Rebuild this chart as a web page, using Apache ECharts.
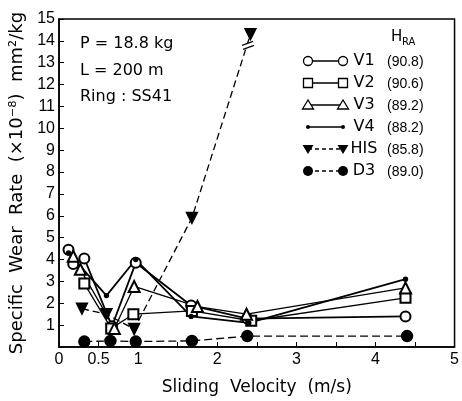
<!DOCTYPE html>
<html>
<head>
<meta charset="utf-8">
<script src="https://cdn.jsdelivr.net/npm/echarts@6/dist/echarts.min.js"></script>
<style>
  html, body { margin: 0; padding: 0; background: #fff; }
  #chart { width: 462px; height: 401px; }
</style>
</head>
<body>
<div id="chart"></div>
<script>
// data (x = m/s, y = x10^-8 mm2/kg)
const v1 = [[0.12, 4.45], [0.18, 3.8], [0.32, 4.05], [0.67, 0.95], [0.97, 3.85], [1.67, 1.9], [2.38, 1.3], [4.38, 1.4]];
const v2 = [[0.32, 2.9], [0.66, 0.85], [0.94, 1.5], [1.68, 1.65], [2.43, 1.2], [4.38, 2.25]];
const v3 = [[0.18, 4.15], [0.27, 3.55], [0.7, 0.85], [0.95, 2.77], [1.75, 1.85], [2.37, 1.5], [4.38, 2.7]];
const v4 = [[0.12, 4.3], [0.6, 2.35], [0.97, 4.0], [1.67, 1.4], [2.4, 1.1], [4.38, 3.1]];
const his = [[0.29, 1.75], [0.6, 1.5], [0.95, 0.82], [1.68, 5.9], [2.42, 14.3]];
const d3 = [[0.32, 0.25], [0.65, 0.28], [0.97, 0.25], [1.68, 0.28], [2.38, 0.5], [4.4, 0.5]];

const names = ['V1', 'V2', 'V3', 'V4', 'HIS', 'D3'];
const hra = ['(90.8)', '(90.6)', '(89.2)', '(88.2)', '(85.8)', '(89.0)'];
const xLabels = ['0', '0.5', '1', '2', '3', '4', '5'];

const font = '"DejaVu Sans", "Liberation Sans", sans-serif';
const narrow = '"Liberation Sans Narrow", "Liberation Sans", sans-serif';

const styles = [
  { symbol: 'emptyCircle', size: 10, rot: 0, dash: 'solid', width: 1.8 },
  { symbol: 'emptyRect', size: 10, rot: 0, dash: 'solid', width: 1.3 },
  { symbol: 'emptyTriangle', size: 11, rot: 0, dash: 'solid', width: 1.3 },
  { symbol: 'circle', size: 4, rot: 0, dash: 'solid', width: 1.8 },
  { symbol: 'triangle', size: 11, rot: 180, dash: [7, 4], width: 1.3 },
  { symbol: 'circle', size: 11, rot: 0, dash: [8, 4], width: 1.3 }
];
const allData = [v1, v2, v3, v4, his, d3];

const series = allData.map((d, i) => ({
  name: names[i],
  type: 'line',
  data: d,
  symbol: styles[i].symbol,
  symbolSize: styles[i].size,
  symbolRotate: styles[i].rot,
  showAllSymbol: true,
  itemStyle: { color: '#000', borderColor: '#000', borderWidth: 1.4 },
  lineStyle: { color: '#000', width: styles[i].width, type: styles[i].dash },
  animation: false,
  z: 3
}));

// legend drawn as graphic, a line with a marker at each end
const legendItems = [];
names.forEach((n, i) => {
  const y = 61 + i * 22;
  const st = styles[i];
  legendItems.push({
    type: 'line', shape: { x1: 308, y1: y, x2: 343, y2: y },
    style: { stroke: '#000', lineWidth: 1.4, lineDash: st.dash === 'solid' ? null : [4, 3] }
  });
  [308, 343].forEach(x => {
    let s;
    const r = 4.5;
    if (i === 0) s = { type: 'circle', shape: { cx: x, cy: y, r: r }, style: { fill: '#fff', stroke: '#000', lineWidth: 1.3 } };
    else if (i === 1) s = { type: 'rect', shape: { x: x - r, y: y - r, width: 2 * r, height: 2 * r }, style: { fill: '#fff', stroke: '#000', lineWidth: 1.3 } };
    else if (i === 2) s = { type: 'polygon', shape: { points: [[x, y - 5], [x - 5.5, y + 4], [x + 5.5, y + 4]] }, style: { fill: '#fff', stroke: '#000', lineWidth: 1.3 } };
    else if (i === 3) s = { type: 'circle', shape: { cx: x, cy: y, r: 2 }, style: { fill: '#000' } };
    else if (i === 4) s = { type: 'polygon', shape: { points: [[x - 5.5, y - 4], [x + 5.5, y - 4], [x, y + 5]] }, style: { fill: '#000' } };
    else s = { type: 'circle', shape: { cx: x, cy: y, r: 5 }, style: { fill: '#000' } };
    s.z = 10;
    legendItems.push(s);
  });
  legendItems.push({
    type: 'text', x: 364, y: y,
    style: { text: n, font: '16px ' + font, fill: '#000', align: 'center', verticalAlign: 'middle' }
  });
  legendItems.push({
    type: 'text', x: 387, y: y + 1,
    style: { text: hra[i], font: '14px ' + narrow, fill: '#000', verticalAlign: 'middle' }
  });
});

const notes = [
  { type: 'text', left: 80, top: 36, style: { text: 'P = 18.8 kg', font: '16px ' + font, fill: '#000' } },
  { type: 'text', left: 80, top: 63, style: { text: 'L = 200 m', font: '16px ' + font, fill: '#000' } },
  { type: 'text', left: 80, top: 89, style: { text: 'Ring : SS41', font: '16px ' + font, fill: '#000' } },
  { type: 'text', left: 391, top: 30, style: { text: 'H', font: '15px ' + font, fill: '#000' } },
  { type: 'text', left: 402, top: 37, style: { text: 'RA', font: '10px ' + font, fill: '#000' } }
];

const chart = echarts.init(document.getElementById('chart'));
chart.setOption({
  backgroundColor: '#fff',
  animation: false,
  grid: { left: 57, right: 4, top: 19, bottom: 52, show: true, borderColor: '#000', borderWidth: 1.5 },
  xAxis: {
    type: 'value', min: 0, max: 5, interval: 0.5,
    name: 'Sliding  Velocity  (m/s)', nameLocation: 'middle', nameGap: 32,
    nameTextStyle: { fontFamily: font, fontSize: 17, color: '#000' },
    axisLine: { lineStyle: { color: '#000', width: 1.5 } },
    axisTick: { inside: true, length: 5, lineStyle: { color: '#000' } },
    splitLine: { show: false },
    axisLabel: {
      color: '#000', fontFamily: narrow, fontSize: 16, margin: 5,
      formatter: v => xLabels.indexOf(String(v)) >= 0 ? String(v) : ''
    }
  },
  yAxis: {
    type: 'value', min: 0, max: 15, interval: 1,
    name: 'Specific  Wear  Rate  (×10⁻⁸)  mm²/kg', nameLocation: 'middle', nameGap: 33,
    nameTextStyle: { fontFamily: font, fontSize: 18, color: '#000' },
    axisLine: { lineStyle: { color: '#000', width: 1.5 } },
    axisTick: { inside: true, length: 5, lineStyle: { color: '#000' } },
    splitLine: { show: false },
    axisLabel: {
      color: '#000', fontFamily: narrow, fontSize: 16, margin: 4,
      formatter: v => v === 0 ? '' : String(v)
    }
  },
  series: series,
  graphic: notes.concat(legendItems)
});

// break mark on the HIS line just under its last point
const bp = chart.convertToPixel({ gridIndex: 0 }, [2.39, 13.75]);
const breakMark = [
  { type: 'rect', shape: { x: bp[0] - 5, y: bp[1] - 3, width: 10, height: 5 }, style: { fill: '#fff' }, rotation: 0.35, originX: bp[0], originY: bp[1], z: 20 },
  { type: 'line', shape: { x1: bp[0] - 6, y1: bp[1] - 1, x2: bp[0] + 5, y2: bp[1] - 5 }, style: { stroke: '#000', lineWidth: 1.2 }, z: 21 },
  { type: 'line', shape: { x1: bp[0] - 5, y1: bp[1] + 3, x2: bp[0] + 6, y2: bp[1] - 1 }, style: { stroke: '#000', lineWidth: 1.2 }, z: 21 }
];
chart.setOption({ graphic: notes.concat(legendItems, breakMark) }, { replaceMerge: ['graphic'] });
</script>
</body>
</html>
